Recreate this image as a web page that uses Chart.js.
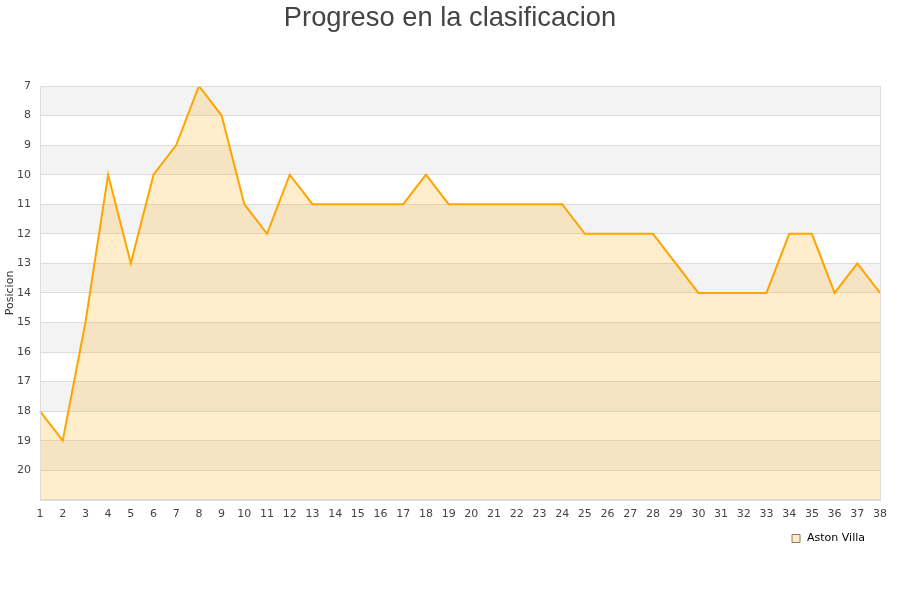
<!DOCTYPE html>
<html>
<head>
<meta charset="utf-8">
<script src="https://cdn.jsdelivr.net/npm/chart.js@4"></script>
<style>
html,body{margin:0;padding:0;background:#fff;}
#wrap{width:900px;height:600px;}
</style>
</head>
<body>
<div id="wrap"><canvas id="c" width="900" height="600"></canvas></div>
<script>
const rounds = ["1","2","3","4","5","6","7","8","9","10","11","12","13","14","15","16","17","18","19","20","21","22","23","24","25","26","27","28","29","30","31","32","33","34","35","36","37","38"];
const positions = [18,19,15,10,13,10,9,7,8,11,12,10,11,11,11,11,11,10,11,11,11,11,11,11,12,12,12,12,13,14,14,14,14,12,12,14,13,14];
const teamName = "Aston Villa";
const titleText = "Progreso en la clasificacion";
const yTitle = "Posicion";

const decorPlugin = {
  id: 'decor',
  afterLayout(chart) {
    const lg = chart.legend;
    if (lg) {
      lg.left -= 7; lg.right -= 7;
      lg.top -= 4; lg.bottom -= 4;
    }
  },
  beforeDraw(chart) {
    const {ctx, chartArea, scales} = chart;
    const y = scales.y;
    ctx.save();
    ctx.fillStyle = '#f3f3f3';
    for (let v = 7; v < 21; v += 2) {
      const p1 = y.getPixelForValue(v);
      const p2 = y.getPixelForValue(v + 1);
      ctx.fillRect(chartArea.left, Math.min(p1, p2), chartArea.right - chartArea.left, Math.abs(p2 - p1));
    }
    // title
    ctx.fillStyle = '#444';
    ctx.font = '27.3px "Liberation Sans"';
    ctx.textAlign = 'center';
    ctx.textBaseline = 'alphabetic';
    ctx.fillText(titleText, chart.width / 2, 25.5);
    ctx.restore();
  },
  afterDraw(chart) {
    const {ctx, chartArea} = chart;
    ctx.save();
    ctx.strokeStyle = '#dddddd';
    ctx.lineWidth = 1;
    ctx.strokeRect(Math.round(chartArea.left) + 0.5, Math.round(chartArea.top) + 0.5,
      Math.round(chartArea.right - chartArea.left), Math.round(chartArea.bottom - chartArea.top));
    ctx.restore();
  }
};

new Chart(document.getElementById('c'), {
  type: 'line',
  data: {
    labels: rounds,
    datasets: [{
      label: teamName,
      data: positions,
      borderColor: '#ffa500',
      backgroundColor: 'rgba(255,165,0,0.2)',
      borderWidth: 2,
      pointRadius: 0,
      tension: 0,
      fill: 'start'
    }]
  },
  options: {
    responsive: false,
    animation: false,
    layout: { padding: { left: 0, right: 20, top: 86, bottom: 42 } },
    plugins: {
      title: { display: false },
      legend: {
        position: 'bottom',
        align: 'end',
        labels: {
          boxWidth: 11,
          boxHeight: 8,
          usePointStyle: true,
          color: '#222',
          font: { family: 'DejaVu Sans', size: 11 },
          padding: 8,
          generateLabels(chart) {
            return [{
              text: teamName,
              fillStyle: '#ffedcc',
              strokeStyle: '#8a7a60',
              lineWidth: 1,
              pointStyle: 'rect',
              datasetIndex: 0
            }];
          }
        }
      },
      tooltip: { enabled: false }
    },
    scales: {
      x: {
        type: 'category',
        offset: false,
        grid: { display: false, drawTicks: false },
        border: { display: false },
        ticks: {
          color: '#444',
          font: { family: 'DejaVu Sans', size: 11 },
          padding: 8,
          maxRotation: 0,
          autoSkip: false
        }
      },
      y: {
        reverse: true,
        min: 7,
        max: 21,
        afterFit(scale) { scale.width = 40; },
        grid: { color: '#dddddd', drawTicks: false },
        border: { display: false },
        ticks: {
          stepSize: 1,
          color: '#444',
          font: { family: 'DejaVu Sans', size: 11 },
          padding: 9,
          callback(v) { return v === 21 ? '' : v; }
        },
        title: {
          display: true,
          text: yTitle,
          color: '#333',
          font: { family: 'DejaVu Sans', size: 11 },
          padding: { top: 4, bottom: 0 }
        }
      }
    }
  },
  plugins: [decorPlugin]
});
</script>
</body>
</html>
